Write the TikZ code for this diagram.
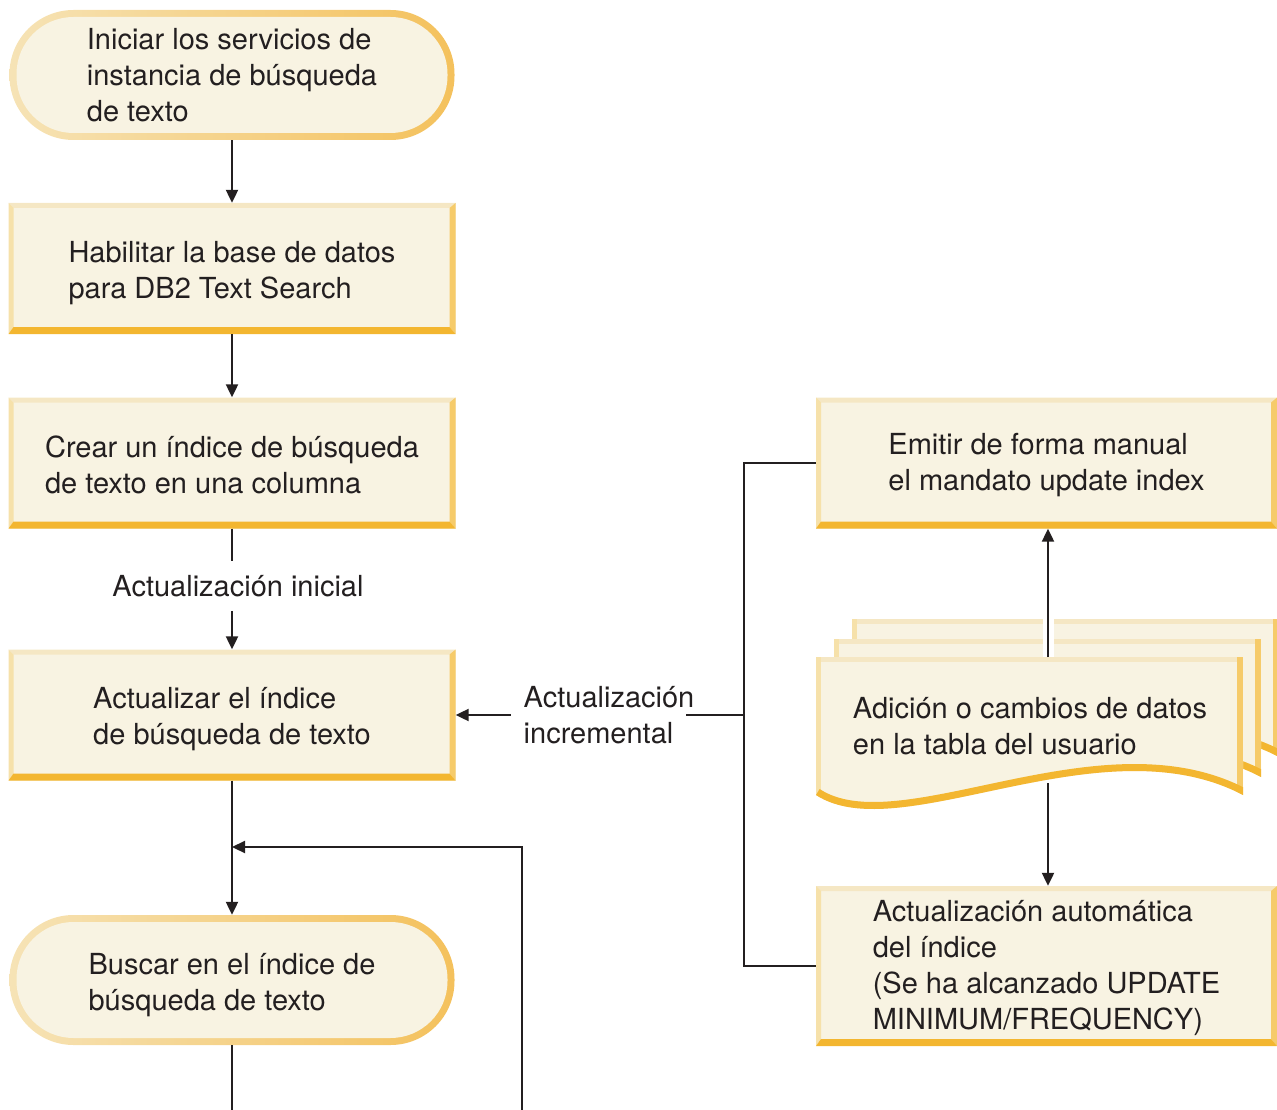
\documentclass[tikz,border=0pt]{standalone}
\usepackage{fontspec}
\setmainfont{TeX Gyre Heros}
\usetikzlibrary{arrows.meta}

\definecolor{boxfill}{HTML}{F8F3E2}
\definecolor{bevtop}{HTML}{F5E7C4}
\definecolor{bevleft}{HTML}{F6E1AA}
\definecolor{bevright}{HTML}{F6CB6A}
\definecolor{bevbottom}{HTML}{F3B630}
\definecolor{termleft}{HTML}{F6E3B6}
\definecolor{termright}{HTML}{F4C15C}
\definecolor{ink}{HTML}{231F20}

% invisible strut that pushes the text block down a little
\newcommand\topgap[1]{\rule{0pt}{#1}}

\tikzset{
  stepbox/.style={rectangle, fill=boxfill, minimum width=447pt, minimum height=131pt,
    inner sep=0pt, align=left,
    path picture={
      \coordinate (pnw) at (path picture bounding box.north west);
      \coordinate (pne) at (path picture bounding box.north east);
      \coordinate (psw) at (path picture bounding box.south west);
      \coordinate (pse) at (path picture bounding box.south east);
      \fill[bevtop] (pnw) -- (pne) -- ([shift={(-6pt,-5pt)}]pne) -- ([shift={(5pt,-5pt)}]pnw) -- cycle;
      \fill[bevleft] (pnw) -- ([shift={(5pt,-5pt)}]pnw) -- ([shift={(5pt,7pt)}]psw) -- (psw) -- cycle;
      \fill[bevright] (pne) -- (pse) -- ([shift={(-6pt,7pt)}]pse) -- ([shift={(-6pt,-5pt)}]pne) -- cycle;
      \fill[bevbottom] (psw) -- ([shift={(5pt,7pt)}]psw) -- ([shift={(-6pt,7pt)}]pse) -- (pse) -- cycle;
    }},
  termbox/.style={rectangle, rounded corners=64pt, minimum width=445pt, minimum height=130pt,
    inner sep=0pt, align=left, left color=termleft, right color=termright,
    path picture={
      \fill[boxfill, rounded corners=57pt] ([shift={(7pt,7pt)}]path picture bounding box.south west)
        rectangle ([shift={(-7pt,-7pt)}]path picture bounding box.north east);
    }},
  lbl/.style={align=left, inner sep=0pt},
  link/.style={draw=ink, line width=2.2pt},
}

% one sheet of the document stack
\newcommand\docsheet{%
  \begin{scope}
    \clip (816,657) -- (1243,657) -- (1243,795) .. controls (1100,720) and (900,850) .. (816,795) -- cycle;
    \fill[boxfill] (810,650) rectangle (1250,860);
    \fill[bevtop] (816,657) rectangle (1243,662);
    \fill[bevleft] (816,657) rectangle (821,860);
    \fill[bevright] (1237,657) rectangle (1243,860);
    \draw[bevbottom, line width=14pt] (1243,795) .. controls (1100,720) and (900,850) .. (816,795);
  \end{scope}}

\begin{document}
\begin{tikzpicture}[x=1pt, y=-1pt, >={Triangle[length=13pt,width=12pt]},
    font=\fontsize{29pt}{36pt}\selectfont, text=ink]
    \useasboundingbox (0,0) rectangle (1277,1110);

    % Left column
    \node[termbox] (start) at (232,75) {Iniciar los servicios de\\instancia de búsqueda\\de texto};
    \node[stepbox] (enable) at (232,268.5) {\topgap{30pt}Habilitar la base de datos\\para DB2 Text Search};
    \node[stepbox] (create) at (232,463) {\topgap{25pt}Crear un índice de búsqueda\\de texto en una columna};
    \node[lbl, inner ysep=14pt] (init) at (238,586) {Actualización inicial};
    \node[stepbox] (update) at (232,715) {\topgap{29pt}Actualizar el índice\\de búsqueda de texto};
    \node[termbox] (search) at (232,980) {\topgap{31pt}Buscar en el índice de\\búsqueda de texto};

    % Right column
    \node[stepbox, minimum width=461pt] (manual) at (1046.5,463) {\topgap{25pt}Emitir de forma manual\\el mandato update index};
    \node[stepbox, minimum width=461pt, minimum height=160pt] (auto) at (1046.5,966)
        {\topgap{25pt}Actualización automática\\del índice\\(Se ha alcanzado UPDATE\\MINIMUM/FREQUENCY)};

    % Document stack
    \coordinate (docN) at (1048,657);
    \coordinate (docS) at (1048,783);
    \begin{scope}[shift={(36,-38)}] \docsheet \end{scope}
    \begin{scope}[shift={(18,-18)}] \docsheet \end{scope}
    \draw[white, line width=11pt] (docN) -- (docN |- manual.south);
    \docsheet
    \node[lbl] (doc) at (1030,726) {Adición o cambios de datos\\en la tabla del usuario};

    % Arrows
    \draw[link, ->] (start) -- (enable);
    \draw[link, ->] (enable) -- (create);
    \draw[link] (create.south) -- (create.south |- init.north);
    \draw[link, ->] (create.south |- init.south) -- (update.north);
    \draw[link, ->] (update) -- (search);
    \draw[link, ->] (docN) -- (docN |- manual.south);
    \draw[link, ->] (docS) -- (docS |- auto.north);

    % Incremental update
    \coordinate (bus) at (744,715);
    \node[lbl] (incr) at (609,715) {Actualización\\incremental};
    \draw[link] (manual.west) -| (bus) |- (auto.west);
    \draw[link] (bus) -- ([xshift=-8pt]incr.east);
    \draw[link, ->] ([xshift=-13pt]incr.west) -- (update.east);

    % Loop back
    \coordinate (join) at (232,847);
    \coordinate (outL) at (232,1110);
    \coordinate (outR) at (522,1110);
    \draw[link] (search) -- (outL);
    \draw[link, ->] (outR) |- (join);
\end{tikzpicture}
\end{document}
